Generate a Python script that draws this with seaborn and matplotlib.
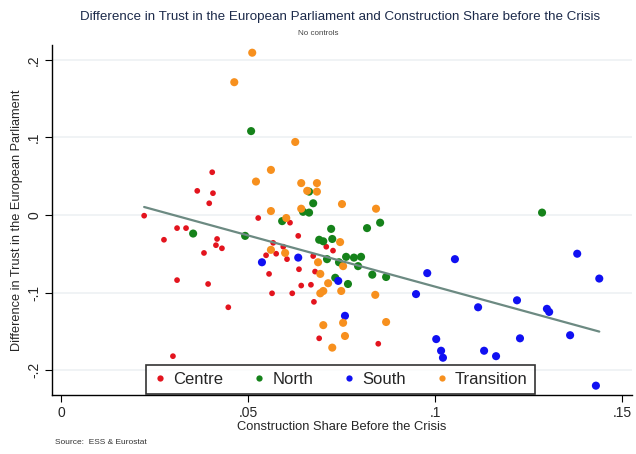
import numpy as np
import pandas as pd
import matplotlib
matplotlib.use("Agg")
import matplotlib.pyplot as plt
import seaborn as sns

# Construction share (x) and trust difference (y)
centre_x = [0.0222, 0.0275, 0.0299, 0.0310, 0.0310, 0.0334, 0.0364, 0.0382, 0.0393, 0.0396,
            0.0404, 0.0406, 0.0414, 0.0417, 0.0430, 0.0447, 0.0527, 0.0548, 0.0556, 0.0567,
            0.0575, 0.0564, 0.0594, 0.0604, 0.0612, 0.0618, 0.0634, 0.0636, 0.0642, 0.0668,
            0.0674, 0.0679, 0.0676, 0.0690, 0.0709, 0.0727, 0.0848]
centre_y = [-0.001, -0.032, -0.182, -0.017, -0.084, -0.017, 0.031, -0.049, -0.089, 0.015,
            0.055, 0.028, -0.039, -0.031, -0.043, -0.119, -0.004, -0.052, -0.076, -0.036,
            -0.050, -0.101, -0.041, -0.057, -0.010, -0.101, -0.027, -0.070, -0.091, -0.090,
            -0.053, -0.073, -0.112, -0.159, -0.041, -0.046, -0.166]

north_x = [0.0353, 0.0492, 0.0508, 0.0591, 0.0647, 0.0663, 0.0663, 0.0674, 0.0690, 0.0701,
           0.0725, 0.0722, 0.0711, 0.0743, 0.0762, 0.0783, 0.0802, 0.0794, 0.0818, 0.0853,
           0.0832, 0.0869, 0.0733, 0.0767, 0.1286]
north_y = [-0.024, -0.027, 0.108, -0.008, 0.004, 0.003, 0.030, 0.015, -0.032, -0.034,
           -0.031, -0.018, -0.057, -0.061, -0.054, -0.055, -0.054, -0.066, -0.017, -0.010,
           -0.077, -0.080, -0.081, -0.089, 0.003]

south_x = [0.0537, 0.0634, 0.0741, 0.0759, 0.0949, 0.0979, 0.1003, 0.1016, 0.1021, 0.1053,
           0.1115, 0.1131, 0.1163, 0.1219, 0.1227, 0.1299, 0.1305, 0.1361, 0.1380, 0.1439,
           0.1430]
south_y = [-0.061, -0.055, -0.085, -0.130, -0.102, -0.075, -0.160, -0.175, -0.184, -0.057,
           -0.119, -0.175, -0.182, -0.110, -0.159, -0.121, -0.125, -0.155, -0.050, -0.082,
           -0.220]

transition_x = [0.0511, 0.0463, 0.0626, 0.0561, 0.0521, 0.0642, 0.0684, 0.0658, 0.0684, 0.0751,
                0.0642, 0.0561, 0.0842, 0.0602, 0.0746, 0.0561, 0.0599, 0.0687, 0.0754, 0.0693,
                0.0714, 0.0701, 0.0693, 0.0749, 0.0840, 0.0869, 0.0754, 0.0701, 0.0759, 0.0725]
transition_y = [0.209, 0.171, 0.094, 0.058, 0.043, 0.041, 0.041, 0.031, 0.030, 0.014,
                0.008, 0.005, 0.008, -0.004, -0.035, -0.045, -0.049, -0.061, -0.066, -0.076,
                -0.088, -0.098, -0.101, -0.098, -0.103, -0.138, -0.139, -0.142, -0.156, -0.171]

regions = ["Centre", "North", "South", "Transition"]
x_ticks = [0, 0.05, 0.10, 0.15]
x_labels = ["0", ".05", ".1", ".15"]
y_ticks = [-0.2, -0.1, 0, 0.1, 0.2]
y_labels = ["-.2", "-.1", "0", ".1", ".2"]

df = pd.concat([
    pd.DataFrame({"share": centre_x, "trust": centre_y, "region": "Centre"}),
    pd.DataFrame({"share": north_x, "trust": north_y, "region": "North"}),
    pd.DataFrame({"share": south_x, "trust": south_y, "region": "South"}),
    pd.DataFrame({"share": transition_x, "trust": transition_y, "region": "Transition"}),
], ignore_index=True)

palette = {"Centre": "#e3141e", "North": "#15821a", "South": "#1010f2", "Transition": "#f7901e"}
sizes = {"Centre": 17, "North": 34, "South": 34, "Transition": 34}

sns.set_theme(style="white")
plt.rcParams["font.family"] = ["Liberation Sans", "DejaVu Sans"]

fig = plt.figure(figsize=(6.36, 4.54), dpi=100)
ax = fig.add_axes([0.082, 0.130, 0.912, 0.771])

sns.scatterplot(data=df, x="share", y="trust", hue="region", size="region",
                hue_order=regions, size_order=regions, palette=palette, sizes=sizes,
                linewidth=0, alpha=1, ax=ax, zorder=3)

sns.regplot(data=df, x="share", y="trust", scatter=False, ci=None, ax=ax,
            line_kws={"color": "#6c8a82", "linewidth": 1.6, "zorder": 4})

ax.set_xlim(-0.0024, 0.1527)
ax.set_ylim(-0.232, 0.219)
ax.set_xticks(x_ticks)
ax.set_xticklabels(x_labels, fontsize=10)
ax.set_yticks(y_ticks)
ax.set_yticklabels(y_labels, fontsize=10, rotation=90, va="center")
ax.tick_params(axis="both", direction="out", length=5, width=0.8, color="black", pad=3)
ax.tick_params(left=True, bottom=True)

ax.yaxis.grid(True, color="#edf1f3", linewidth=1.2)
ax.xaxis.grid(False)
ax.set_axisbelow(True)
for side in ["top", "right"]:
    ax.spines[side].set_visible(False)
for side in ["left", "bottom"]:
    ax.spines[side].set_color("black")
    ax.spines[side].set_linewidth(1.0)

ax.set_xlabel("Construction Share Before the Crisis", fontsize=9.3, labelpad=1)
ax.set_ylabel("Difference in Trust in the European Parliament", fontsize=9.2, labelpad=3)

handles, labels = ax.get_legend_handles_labels()
leg = ax.legend(handles, labels, loc="lower center", ncol=4,
                bbox_to_anchor=(0.497, 0.003), frameon=True,
                fancybox=False, edgecolor="black", fontsize=12,
                handlelength=0.8, handletextpad=0.4, columnspacing=1.75,
                borderaxespad=0, borderpad=0.42)
leg.get_frame().set_linewidth(1.2)
leg.set_zorder(5)
for h in leg.legend_handles:
    h.set_markersize(4.5)

fig.text(0.535, 0.962, "Difference in Trust in the European Parliament and Construction Share before the Crisis",
         ha="center", va="center", fontsize=9.6, color="#1c2a4a")
fig.text(0.5, 0.927, "No controls", ha="center", va="center", fontsize=5.8, color="#444444")
fig.text(0.087, 0.025, "Source:  ESS & Eurostat", ha="left", va="center", fontsize=6, color="#333333")

fig.savefig("out.png", dpi=100)
